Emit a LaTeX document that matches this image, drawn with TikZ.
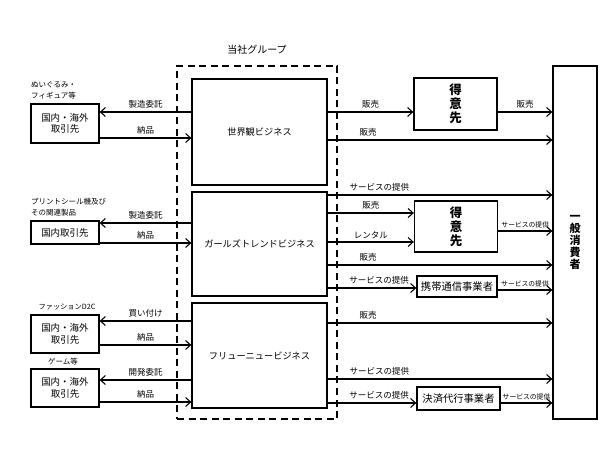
\documentclass[tikz,border=0pt]{standalone}
\usepackage{fontspec}
\setmainfont{Noto Sans CJK JP}
\usetikzlibrary{arrows.meta}

\begin{document}
\begin{tikzpicture}[x = 1pt, y = -1pt, >={Straight Barb[length=5pt, width=9pt]}]
        \tikzstyle{every node} = [inner sep = 0pt]
        \tikzstyle{box} = [draw, line width = 1.3pt, rectangle, align = center]
        \tikzstyle{biz} = [box, minimum width = 135pt, font = \fontsize{9.2}{11}\selectfont]
        \tikzstyle{partner} = [box, minimum width = 68pt, font = \fontsize{9.5}{11.5}\selectfont]
        \tikzstyle{client} = [box, minimum width = 83pt, minimum height = 52pt, font = \fontsize{12.5}{14}\selectfont\bfseries]
        \tikzstyle{agent} = [box, minimum width = 82pt, font = \fontsize{10.3}{12}\selectfont]
        \tikzstyle{note} = [align = left, font = \fontsize{7.5}{10.5}\selectfont]
        \tikzstyle{lbl} = [above = 3pt, font = \fontsize{8.5}{10}\selectfont]
        \tikzstyle{slbl} = [above = 2.5pt, font = \fontsize{6.8}{8}\selectfont]
        \tikzstyle{flow} = [->, line width = 1.1pt]
        \useasboundingbox (0, 0) rectangle (616, 462);

        % group
        \node(Group label) at (257, 50) {\fontsize{10}{12}\selectfont 当社グループ};
        \node(Group)[draw, line width = 1.3pt, dash pattern = on 7pt off 4.5pt, minimum width = 160pt, minimum height = 353pt] at (257, 242.5) {};
        \node(World)[biz, minimum height = 106pt] at (259.5, 132) {世界観ビジネス};
        \node(Girls)[biz, minimum height = 104pt] at (259.5, 244) {ガールズトレンドビジネス};
        \node(New)[biz, minimum height = 105pt] at (259.5, 355.5) {フリューニュービジネス};

        % partners
        \node(Toy)[note, anchor = west] at (31, 90.5) {ぬいぐるみ・\\フィギュア等};
        \node(Partner1)[partner, minimum height = 39pt] at (65, 123.5) {国内・海外\\取引先};
        \node(Print)[note, anchor = west] at (31, 207) {プリントシール機及び\\その関連製品};
        \node(Partner2)[partner, minimum height = 23pt] at (65, 232.5) {国内取引先};
        \node(Fashion)[note, font = \fontsize{7.2}{9}\selectfont] at (67, 307) {ファッションD2C};
        \node(Partner3)[partner, minimum height = 38pt] at (65, 334) {国内・海外\\取引先};
        \node(Game)[note] at (63, 362) {ゲーム等};
        \node(Partner4)[partner, minimum height = 38pt] at (65, 388) {国内・海外\\取引先};

        \draw [flow] (World.west |- 0, 112) -- node[lbl](Order1){製造委託} (Partner1.east |- 0, 112);
        \draw [flow] (Partner1.east |- 0, 138) -- node[lbl](Deliver1){納品} (World.west |- 0, 138);
        \draw [flow] (Girls.west |- 0, 223) -- node[lbl](Order2){製造委託} (Partner2.east |- 0, 223);
        \draw [flow] (Partner2.east |- 0, 243) -- node[lbl](Deliver2){納品} (Girls.west |- 0, 243);
        \draw [flow] (New.west |- 0, 321) -- node[lbl](Buy){買い付け} (Partner3.east |- 0, 321);
        \draw [flow] (Partner3.east |- 0, 345) -- node[lbl](Deliver3){納品} (New.west |- 0, 345);
        \draw [flow] (New.west |- 0, 380) -- node[lbl](Develop){開発委託} (Partner4.east |- 0, 380);
        \draw [flow] (Partner4.east |- 0, 402) -- node[lbl](Deliver4){納品} (New.west |- 0, 402);

        % customers
        \node(Consumer)[box, minimum width = 44pt, minimum height = 353pt, font = \fontsize{11}{12}\selectfont\bfseries] at (575, 242.5) {一\\般\\消\\費\\者};
        \node(Client1)[client] at (455.5, 104) {得\\意\\先};
        \node(Client2)[client, minimum height = 51pt] at (456, 226.5) {得\\意\\先};
        \node(Mobile)[agent, minimum width = 80pt, minimum height = 21pt] at (457, 286.5) {携帯通信事業者};
        \node(Payment)[agent, minimum width = 83pt, minimum height = 23pt] at (458.5, 398.5) {決済代行事業者};

        \draw [flow] (World.east |- 0, 112) -- node[lbl](Sale1){販売} (Client1.west |- 0, 112);
        \draw [flow] (Client1.east |- 0, 112) -- node[lbl](Sale2){販売} (Consumer.west |- 0, 112);
        \draw [flow] (World.east |- 0, 140) -- node[lbl, pos = 0.18](Sale3){販売} (Consumer.west |- 0, 140);

        \draw [flow] (Girls.east |- 0, 195) -- node[lbl, pos = 0.23](Service1){サービスの提供} (Consumer.west |- 0, 195);
        \draw [flow] (Girls.east |- 0, 213) -- node[lbl](Sale4){販売} (Client2.west |- 0, 213);
        \draw [flow] (Girls.east |- 0, 242) -- node[lbl](Rental){レンタル} (Client2.west |- 0, 242);
        \draw [flow] (Client2.east |- 0, 231) -- node[slbl](Service2){サービスの提供} (Consumer.west |- 0, 231);
        \draw [flow] (Girls.east |- 0, 265) -- node[lbl, pos = 0.18](Sale5){販売} (Consumer.west |- 0, 265);
        \draw [flow] (Girls.east |- 0, 288) -- node[lbl, pos = 0.58](Service3){サービスの提供} (Mobile.west |- 0, 288);
        \draw [flow] (Mobile.east |- 0, 290) -- node[slbl](Service4){サービスの提供} (Consumer.west |- 0, 290);

        \draw [flow] (New.east |- 0, 323) -- node[lbl, pos = 0.18](Sale6){販売} (Consumer.west |- 0, 323);
        \draw [flow] (New.east |- 0, 379) -- node[lbl, pos = 0.23](Service5){サービスの提供} (Consumer.west |- 0, 379);
        \draw [flow] (New.east |- 0, 403) -- node[lbl, pos = 0.58](Service6){サービスの提供} (Payment.west |- 0, 403);
        \draw [flow] (Payment.east |- 0, 403) -- node[slbl](Service7){サービスの提供} (Consumer.west |- 0, 403);

    \end{tikzpicture}
\end{document}
